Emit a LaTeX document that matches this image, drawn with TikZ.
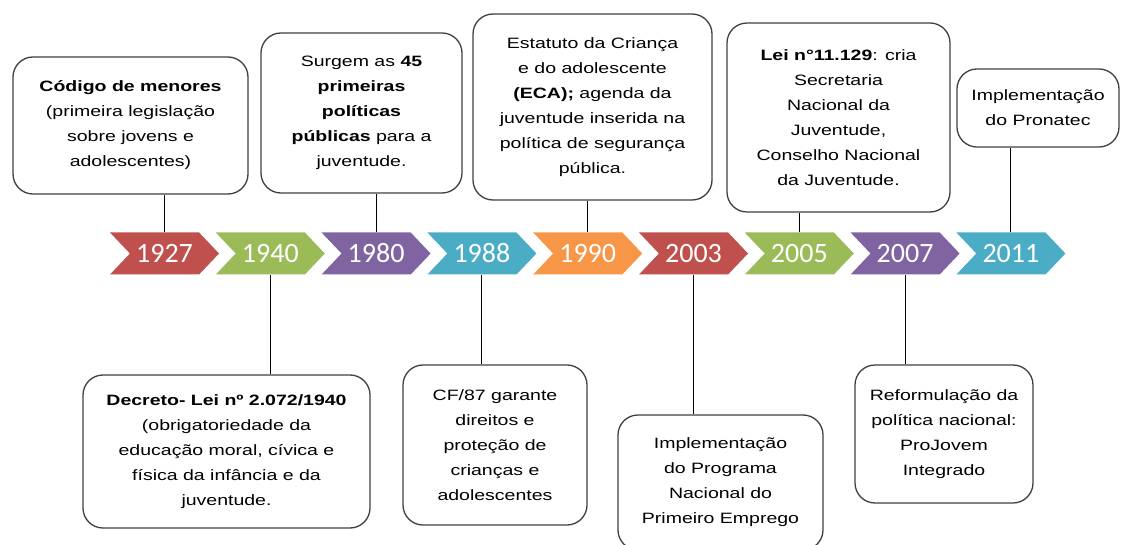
\documentclass[tikz,border=0pt]{standalone}
\usepackage{fontspec}
\setmainfont{Liberation Sans}[FakeStretch=1.3]
\newfontfamily\anofont{Carlito}
\usetikzlibrary{shapes.symbols}
\definecolor{verm}{HTML}{C0504D}
\definecolor{verde}{HTML}{9BBB59}
\definecolor{roxo}{HTML}{8064A2}
\definecolor{azul}{HTML}{4BACC6}
\definecolor{laranja}{HTML}{F79646}
\definecolor{borda}{HTML}{404040}
\begin{document}
\begin{tikzpicture}[
		x=1pt, y=-1pt,
		ano/.style={
			signal, signal from=west, signal to=east, signal pointer angle=93,
			minimum width=109pt, minimum height=42pt, inner sep=0pt,
			text=white, font=\anofont\fontsize{28}{28}\selectfont
		},
		caixa/.style={
			draw=borda, line width=1.3pt, rectangle, rounded corners=20pt, align=center,
			fill=white, inner sep=0pt, font=\fontsize{15}{25}\selectfont
		},
		liga/.style={draw, line width=1.1pt}
		]
		\useasboundingbox (0,0) rectangle (1124,545);
		
		% linha do tempo
		\node[ano, fill=verm]    (a1927) at (164.5,253.5) {1927};
		\node[ano, fill=verde]   (a1940) at (270.3,253.5) {1940};
		\node[ano, fill=roxo]    (a1980) at (376.1,253.5) {1980};
		\node[ano, fill=azul]    (a1988) at (481.9,253.5) {1988};
		\node[ano, fill=laranja] (a1990) at (587.7,253.5) {1990};
		\node[ano, fill=verm]    (a2003) at (693.5,253.5) {2003};
		\node[ano, fill=verde]   (a2005) at (799.3,253.5) {2005};
		\node[ano, fill=roxo]    (a2007) at (905.1,253.5) {2007};
		\node[ano, fill=azul]    (a2011) at (1010.9,253.5) {2011};
		
		% caixas de cima
		\node[caixa, minimum width=235pt, minimum height=137pt] (c1927) at (130.5,125.5)
			{\textbf{Código de menores}\\(primeira legislação\\sobre jovens e\\adolescentes)};
		\node[caixa, minimum width=201pt, minimum height=160pt] (c1980) at (361.5,113)
			{Surgem as \textbf{45}\\\textbf{primeiras}\\\textbf{políticas}\\\textbf{públicas} para a\\juventude.};
		\node[caixa, minimum width=239pt, minimum height=186pt] (c1990) at (592.5,107)
			{Estatuto da Criança\\e do adolescente\\\textbf{(ECA);} agenda da\\juventude inserida na\\política de segurança\\pública.};
		\node[caixa, minimum width=223pt, minimum height=189pt] (c2005) at (838.5,117.5)
			{\textbf{Lei n°11.129}: cria\\Secretaria\\Nacional da\\Juventude,\\Conselho Nacional\\da Juventude.};
		\node[caixa, minimum width=162pt, minimum height=78pt] (c2011) at (1038,108)
			{Implementação\\do Pronatec};
		
		% caixas de baixo
		\node[caixa, minimum width=287pt, minimum height=153pt] (c1940) at (226.5,451.5)
			{\textbf{Decreto- Lei nº 2.072/1940}\\(obrigatoriedade da\\educação moral, cívica e\\física da infância e da\\juventude.};
		\node[caixa, minimum width=184pt, minimum height=160pt] (c1988) at (495,445)
			{CF/87 garante\\direitos e\\proteção de\\crianças e\\adolescentes};
		\node[caixa, minimum width=205pt, minimum height=135pt] (c2003) at (720.5,482.5)
			{Implementação\\do Programa\\Nacional do\\Primeiro Emprego};
		\node[caixa, minimum width=178pt, minimum height=138pt] (c2007) at (944,434)
			{Reformulação da\\política nacional:\\ProJovem\\Integrado};
		
		% ligações
		\draw[liga] (a1927.north) -- (a1927.north |- c1927.south);
		\draw[liga] (a1980.north) -- (a1980.north |- c1980.south);
		\draw[liga] (a1990.north) -- (a1990.north |- c1990.south);
		\draw[liga] (a2005.north) -- (a2005.north |- c2005.south);
		\draw[liga] (a2011.north) -- (a2011.north |- c2011.south);
		\draw[liga] (a1940.south) -- (a1940.south |- c1940.north);
		\draw[liga] (a1988.south) -- (a1988.south |- c1988.north);
		\draw[liga] (a2003.south) -- (a2003.south |- c2003.north);
		\draw[liga] (a2007.south) -- (a2007.south |- c2007.north);
	\end{tikzpicture}
\end{document}
